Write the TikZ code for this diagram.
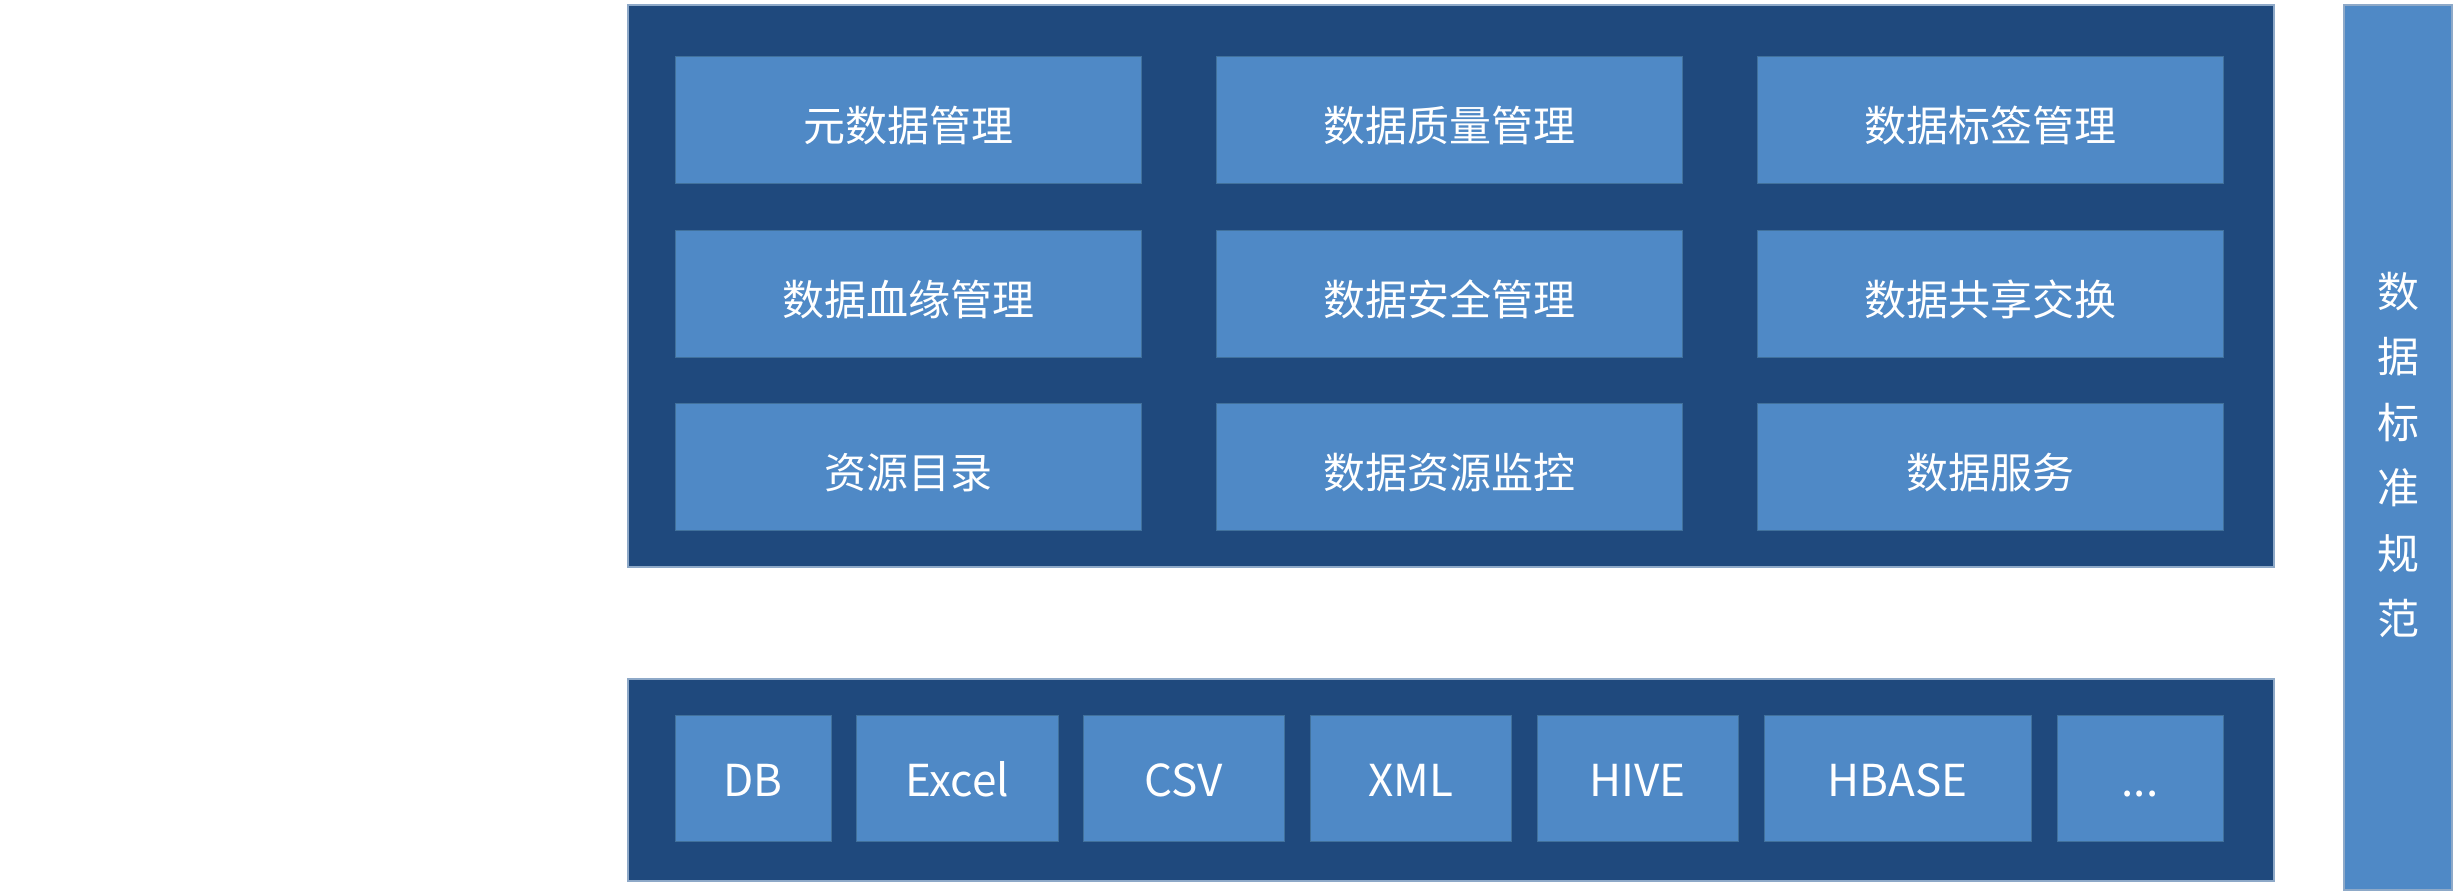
\documentclass[tikz,border=0pt]{standalone}
\usepackage{fontspec}
\setmainfont{Noto Sans CJK SC}
\definecolor{navy}{HTML}{1F497D}
\definecolor{tilefill}{HTML}{4F89C6}
\definecolor{tileedge}{HTML}{41719C}
\definecolor{paneledge}{HTML}{8EA9C8}
\begin{document}
\begin{tikzpicture}[x=1pt,y=-1pt,
  panel/.style={draw=paneledge, line width=1.2pt, fill=navy, inner sep=0pt},
  tilebase/.style={draw=tileedge, line width=1pt, fill=tilefill, text=white, inner sep=0pt},
  cjktile/.style={tilebase, minimum width=466pt, minimum height=127pt,
    font=\fontsize{42}{50}\selectfont, text height=47pt, text depth=3pt},
  srctile/.style={tilebase, minimum height=126pt,
    font=\fontsize{44}{50}\selectfont, text height=37pt, text depth=0pt},
  sidebar/.style={draw=paneledge, line width=1.2pt, fill=tilefill, inner sep=0pt}
]
\useasboundingbox (0,0) rectangle (2456,895);

% top panel
\node[panel, minimum width=1646pt, minimum height=562pt] (toppanel) at (1451,286) {};
\node[cjktile] (t11) at (908,119.5) {元数据管理};
\node[cjktile] (t12) at (1449,119.5) {数据质量管理};
\node[cjktile] (t13) at (1990,119.5) {数据标签管理};
\node[cjktile] (t21) at (908,293.5) {数据血缘管理};
\node[cjktile] (t22) at (1449,293.5) {数据安全管理};
\node[cjktile] (t23) at (1990,293.5) {数据共享交换};
\node[cjktile] (t31) at (908,466.5) {资源目录};
\node[cjktile] (t32) at (1449,466.5) {数据资源监控};
\node[cjktile] (t33) at (1990,466.5) {数据服务};

% bottom panel
\node[panel, minimum width=1646pt, minimum height=202pt] (botpanel) at (1451,780) {};
\node[srctile, minimum width=156pt] (s1) at (753,778) {DB};
\node[srctile, minimum width=202pt] (s2) at (957,778) {Excel};
\node[srctile, minimum width=201pt] (s3) at (1183.5,778) {CSV};
\node[srctile, minimum width=201pt] (s4) at (1410.5,778) {XML};
\node[srctile, minimum width=201pt] (s5) at (1637.5,778) {HIVE};
\node[srctile, minimum width=267pt] (s6) at (1897.5,778) {HBASE};
\node[srctile, minimum width=166pt] (s7) at (2140,778) {...};

% side bar
\node[sidebar, minimum width=108pt, minimum height=885pt] (side) at (2398,447.5) {};
\node[text=white, align=center, font=\fontsize{42}{65.5}\selectfont, inner sep=0pt] (sidetext) at (2398,455) {数\\据\\标\\准\\规\\范};
\end{tikzpicture}
\end{document}
